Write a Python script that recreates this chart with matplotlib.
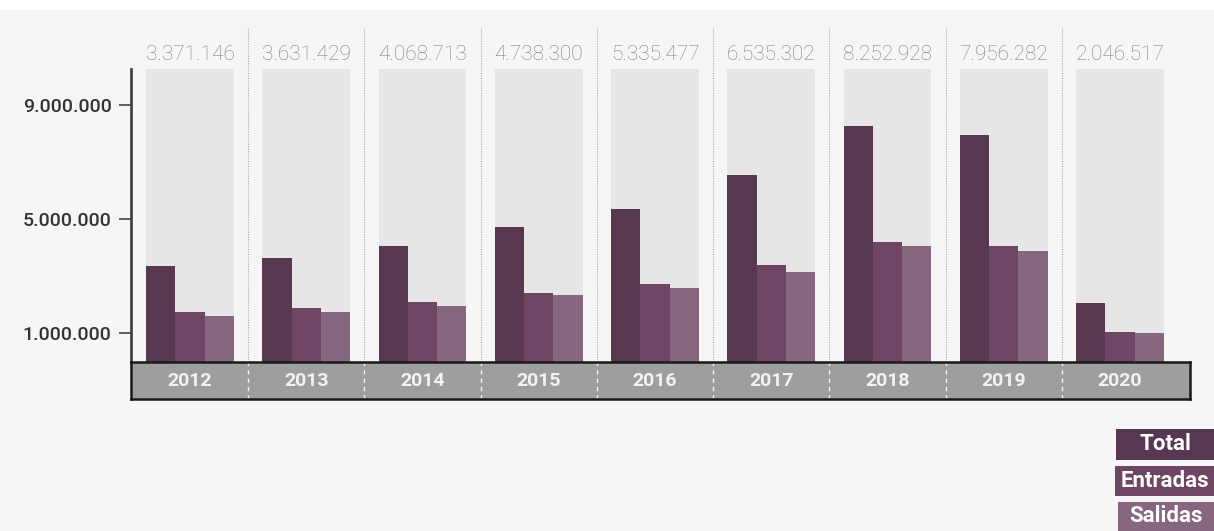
import matplotlib.pyplot as plt
from matplotlib.patches import Rectangle
from matplotlib.ticker import FuncFormatter
import matplotlib.transforms as mtransforms

plt.rcParams['font.family'] = ['Roboto', 'DejaVu Sans']

# passengers per year
years = ['2012', '2013', '2014', '2015', '2016', '2017', '2018', '2019', '2020']
total = [3371146, 3631429, 4068713, 4738300, 5335477, 6535302, 8252928, 7956282, 2046517]
entradas = [1740000, 1880000, 2110000, 2410000, 2740000, 3400000, 4190000, 4070000, 1040000]
salidas = [1610000, 1740000, 1960000, 2330000, 2600000, 3140000, 4060000, 3890000, 1000000]
yticks = [1000000, 5000000, 9000000]

c_total = '#583750'
c_entr = '#6e4664'
c_sal = '#876680'
bg = '#f6f6f6'

W, H = 1214, 531
fig = plt.figure(figsize=(W / 100, H / 100), dpi=100, facecolor=bg)

# white strip along the top edge
fig.patches.append(Rectangle((0, 1 - 10 / H), 1, 10 / H, transform=fig.transFigure,
                             facecolor='white', edgecolor='none', zorder=0))

left, right = 131, 1190
top, base, band_bot = 69, 362, 399
ax = fig.add_axes([left / W, 1 - base / H, (right - left) / W, (base - top) / H])
ax.set_facecolor('none')

ymax = 10.25e6
xs = list(range(len(years)))
bw = 0.252

ax.bar(xs, [ymax] * len(xs), width=3 * bw, color='#e6e6e6', zorder=1)
ax.bar([x - bw for x in xs], total, width=bw, color=c_total, zorder=2)
ax.bar(xs, entradas, width=bw, color=c_entr, zorder=2)
ax.bar([x + bw for x in xs], salidas, width=bw, color=c_sal, zorder=2)

ax.set_xlim(-0.508, 8.602)
ax.set_ylim(0, ymax)

# dotted separators between years
ext = (base - 27) / (base - top)
for i in range(len(years) - 1):
    ax.axvline(i + 0.5, ymin=0, ymax=ext, color='#a8a8a8', lw=0.8,
               ls=(0, (1, 1.2)), clip_on=False, zorder=0)

# totals written above each group
trans = mtransforms.blended_transform_factory(ax.transData, ax.transAxes)
for x, v in zip(xs, total):
    ax.text(x, (base - 54) / (base - top), f'{v:,}'.replace(',', '.'),
            transform=trans, ha='center', va='center', fontsize=15,
            fontweight='light', color='#7d7d7d')

for s in ['top', 'right', 'bottom']:
    ax.spines[s].set_visible(False)
ax.spines['left'].set_color('#444444')
ax.spines['left'].set_linewidth(2)
ax.set_xticks([])
ax.set_yticks(yticks)
ax.yaxis.set_major_formatter(FuncFormatter(lambda v, p: f'{v:,.0f}'.replace(',', '.')))
ax.tick_params(axis='y', length=9, width=1.2, color='#444444', labelsize=14,
               labelcolor='#333333', pad=5)
for lab in ax.get_yticklabels():
    lab.set_fontweight('medium')

# year band under the bars
bx = fig.add_axes([left / W, 1 - band_bot / H, (right - left) / W, (band_bot - base) / H],
                  sharex=ax)
bx.set_facecolor('#9d9f9e')
for s in bx.spines.values():
    s.set_color('#1a1a1a')
    s.set_linewidth(1.8)
bx.set_ylim(0, 1)
bx.tick_params(left=False, bottom=False, labelleft=False, labelbottom=False)
for i in range(len(years) - 1):
    bx.axvline(i + 0.5, color='white', lw=1, ls=(0, (3, 3)), alpha=0.9)
for x, y in zip(xs, years):
    bx.text(x, 0.5, y, ha='center', va='center', fontsize=14, fontweight='bold',
            color='#f2f2f2')

# legend boxes, bottom right
legend = [('Total', c_total, 1116, 429, 460),
          ('Entradas', c_entr, 1115, 466, 496),
          ('Salidas', c_sal, 1118, 502, 531)]
for name, col, x0, y0, y1 in legend:
    fig.patches.append(Rectangle((x0 / W, 1 - y1 / H), (W - x0) / W, (y1 - y0) / H,
                                 transform=fig.transFigure, facecolor=col,
                                 edgecolor='none'))
    fig.text((x0 + W) / 2 / W, 1 - (y0 + y1) / 2 / H, name, ha='center', va='center',
             fontsize=16, fontweight='bold', color='white')

fig.savefig('out.png', dpi=100, facecolor=bg)
